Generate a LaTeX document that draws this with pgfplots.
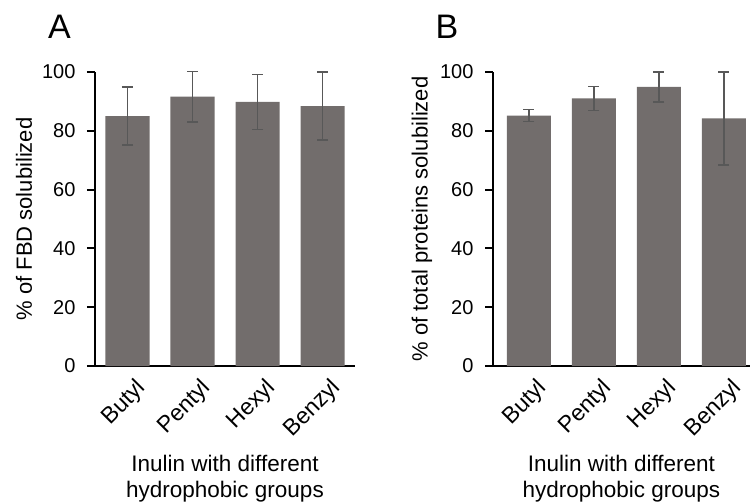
\documentclass[border=0pt]{standalone}
\usepackage{fontspec}
\setmainfont{Liberation Sans}
\usepackage{pgfplots}
\pgfplotsset{compat=1.18}
\definecolor{barfill}{RGB}{114,109,108}
\definecolor{errc}{RGB}{88,88,88}
\pgfplotsset{
  mybar/.style={
    scale only axis,
    height=294pt,
    ymin=0, ymax=100,
    ytick={0,20,40,60,80,100},
    xtick={0,1,2,3},
    xticklabels={Butyl,Pentyl,Hexyl,Benzyl},
    axis x line*=bottom,
    axis y line*=left,
    axis line style={-, line width=2pt, black},
    tick align=outside,
    major tick length=8pt,
    ytick style={line width=2pt, black},
    xtick style={draw=none},
    /pgf/number format/assume math mode=true,
    yticklabel style={font=\fontsize{20}{24}\selectfont, xshift=-8pt},
    xticklabel style={font=\fontsize{23}{27}\selectfont, rotate=45, anchor=north east, xshift=5pt, yshift=-5pt, inner sep=2pt},
    clip=false,
    ylabel style={font=\fontsize{22}{26}\selectfont, anchor=center},
    xlabel style={font=\fontsize{22.5}{26}\selectfont, align=center, anchor=center, at={(axis description cs:0.5,-0.384)}},
    ybar, bar width=44pt,
    every axis plot/.append style={fill=barfill, draw=none},
    error bars/error bar style={line width=1.7pt, errc},
    error bars/error mark options={rotate=90, mark size=5.5pt, line width=1.7pt, errc},
  }
}
\begin{document}
\begin{tikzpicture}[x=1pt,y=1pt]
\useasboundingbox (-95,-135) rectangle (656,366);
\begin{axis}[mybar, at={(0pt,0pt)}, anchor=south west,
  width=260pt, xmin=-0.5, xmax=3.5,
  ylabel={\% of FBD solubilized},
  ylabel style={at={(axis description cs:-0.273,0.5)}},
  xlabel={Inulin with different\\hydrophobic groups}]
\addplot+[ybar, fill=barfill, draw=none, error bars/.cd, y dir=both, y explicit]
  coordinates {(0,85.0) +- (0,9.8) (1,91.6) +- (0,8.6) (2,89.8) +- (0,9.4) (3,88.4) +- (0,11.5)};
\node[font=\fontsize{34}{38}\selectfont] at (axis description cs:-0.137,1.155) {A};
\end{axis}
\begin{axis}[mybar, at={(398pt,0pt)}, anchor=south west,
  width=256.75pt, xmin=-0.55, xmax=3.4,
  ylabel={\% of total proteins solubilized},
  ylabel style={at={(axis description cs:-0.277,0.5)}},
  xlabel={Inulin with different\\hydrophobic groups}]
\addplot+[ybar, fill=barfill, draw=none, error bars/.cd, y dir=both, y explicit]
  coordinates {(0,85.2) +- (0,2.0) (1,91.0) +- (0,4.1) (2,94.9) +- (0,5.2) (3,84.2) +- (0,15.8)};
\node[font=\fontsize{34}{38}\selectfont] at (axis description cs:-0.179,1.153) {B};
\end{axis}
\end{tikzpicture}
\end{document}
